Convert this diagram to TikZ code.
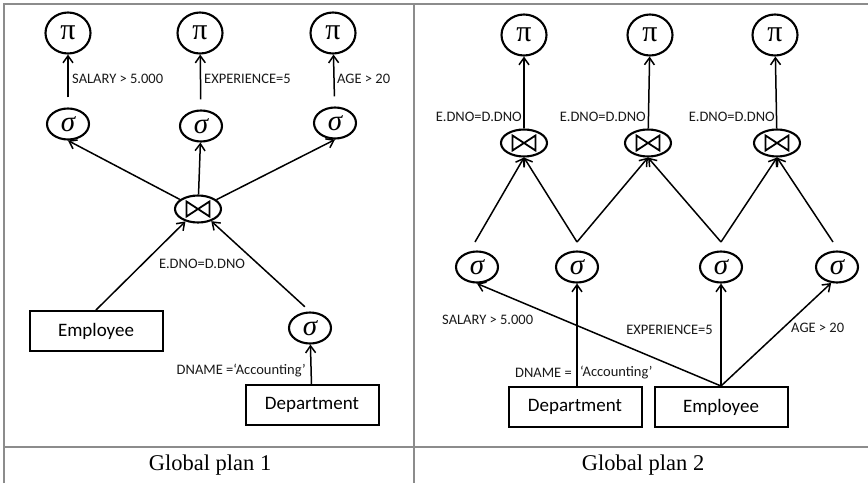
\documentclass[tikz,border=0pt]{standalone}
\usepackage{fontspec}
\setmainfont{Liberation Serif}
\newfontfamily\lblfont{Carlito}
\usetikzlibrary{arrows.meta,shapes.geometric}
\definecolor{rulegrey}{HTML}{8C8C8C}

\begin{document}
\begin{tikzpicture}[x=1pt,y=-1pt,
  op/.style={draw, ellipse, line width=2.1pt, inner sep=0pt},
  proj/.style={op, minimum width=45pt, minimum height=41pt, font=\fontsize{30}{30}\selectfont},
  sel/.style={op, minimum width=42pt, minimum height=31pt, font=\fontsize{29}{29}\selectfont\itshape},
  joinop/.style={op, minimum width=46pt, minimum height=27pt},
  bow/.style={line width=1.8pt, line join=miter},
  rel/.style={draw, line width=2pt, minimum width=133pt, minimum height=40pt, inner sep=0pt,
    font=\lblfont\fontsize{19}{19}\selectfont},
  lbl/.style={font=\lblfont\fontsize{14.5}{14.5}\selectfont, inner sep=0pt, text=black!90},
  flow/.style={line width=1.5pt, -{Straight Barb[length=7pt,width=10pt,line width=1.5pt]}},
  captext/.style={font=\fontsize{22.5}{22.5}\selectfont, inner sep=0pt},
  tableframe/.style={draw=rulegrey, line width=1.8pt}
]
\useasboundingbox (0,0) rectangle (868,483);

% table rules
\draw[tableframe] (4,483) -- (4,4) -- (868,4);
\draw[tableframe] (414,4) -- (414,483);
\draw[tableframe] (4,447) -- (868,447);

% ---------- plan 1 ----------
\node[proj] (pi1) at (68,33) {π};
\node[proj] (pi2) at (200,33) {π};
\node[proj] (pi3) at (333,33) {π};
\node[sel] (s1) at (68,124) {σ};
\node[sel] (s2) at (201,126) {σ};
\node[sel] (s3) at (335,123) {σ};
\node[joinop] (j) at (198,209) {};
\node[rel] (emp) at (96,331) {Employee};
\node[sel] (s4) at (310,328) {σ};
\node[rel] (dept) at (312,405) {Department};

\draw[flow, shorten <=10pt] (s1) -- (pi1);
\draw[flow, shorten <=10pt] (s2) -- (pi2);
\draw[flow, shorten <=10pt] (s3) -- (pi3);
\draw[flow] (j) -- (s1.south);
\draw[flow] (j) -- (s2);
\draw[flow] (j) -- (s3.south);
\draw[flow] (emp.north) -- (j);
\draw[flow, shorten <=7pt] (s4.north) -- (j);
\draw[flow] (dept) -- (s4);

\node[lbl, anchor=west] (l1) at (72,79) {SALARY > 5.000};
\node[lbl, anchor=west] (l2) at (204,79) {EXPERIENCE=5};
\node[lbl, anchor=west] (l3) at (337,79) {AGE > 20};
\node[lbl] (l4) at (202,264) {E.DNO=D.DNO};
\node[lbl, anchor=east] (l5) at (306,371) {DNAME =‘Accounting’};

% ---------- plan 2 ----------
\node[proj] (P1) at (524,35) {π};
\node[proj] (P2) at (650,35) {π};
\node[proj] (P3) at (775,35) {π};
\node[joinop] (J1) at (524,143) {};
\node[joinop] (J2) at (648,143) {};
\node[joinop] (J3) at (777,143) {};
\node[sel] (S1) at (477,267) {σ};
\node[sel] (S2) at (577,267) {σ};
\node[sel] (S3) at (721,267) {σ};
\node[sel] (S4) at (837,267) {σ};
\node[rel] (Dept) at (575,407) {Department};
\node[rel] (Emp) at (721,407) {Employee};

\coordinate (a1) at (475,242);
\coordinate (a2) at (577,242);
\coordinate (a3) at (721,242);
\coordinate (a4) at (833,242);

\draw[flow] (J1) -- (P1);
\draw[flow] (J2) -- (P2);
\draw[flow] (J3) -- (P3);
\draw[flow] (a1) -- (J1.south);
\draw[flow] (a2) -- (J1.south);
\draw[flow] (a2) -- (J2.south);
\draw[flow] (a3) -- (J2.south);
\draw[flow] (a3) -- (J3.south);
\draw[flow] (a4) -- (J3.south);
\draw[flow] (Dept.north -| S2) -- (S2);
\draw[flow] (Emp.north) -- (S1.south);
\draw[flow] (Emp.north) -- (S3);
\draw[flow] (Emp.north) -- (S4.-110);

\node[lbl, anchor=east] (m1) at (522,117) {E.DNO=D.DNO};
\node[lbl, anchor=east] (m2) at (646,117) {E.DNO=D.DNO};
\node[lbl, anchor=east] (m3) at (775,117) {E.DNO=D.DNO};
\node[lbl, anchor=west] (m4) at (442,320) {SALARY > 5.000};
\node[lbl, anchor=east] (m5) at (713,330) {EXPERIENCE=5};
\node[lbl, anchor=west] (m6) at (791,328) {AGE > 20};
\node[lbl, anchor=east] (m7) at (572,373) {DNAME =};
\node[lbl, anchor=west] (m8) at (580,373) {‘Accounting’};

% join symbols
\foreach \n in {j,J1,J2,J3}
  \draw[bow] ([shift={(-11.5,-7.5)}]\n.center) -- ([shift={(11.5,7.5)}]\n.center)
    -- ([shift={(11.5,-7.5)}]\n.center) -- ([shift={(-11.5,7.5)}]\n.center) -- cycle;

% captions
\node[captext] (c1) at (210,465) {Global plan 1};
\node[captext] (c2) at (643,465) {Global plan 2};
\end{tikzpicture}
\end{document}
